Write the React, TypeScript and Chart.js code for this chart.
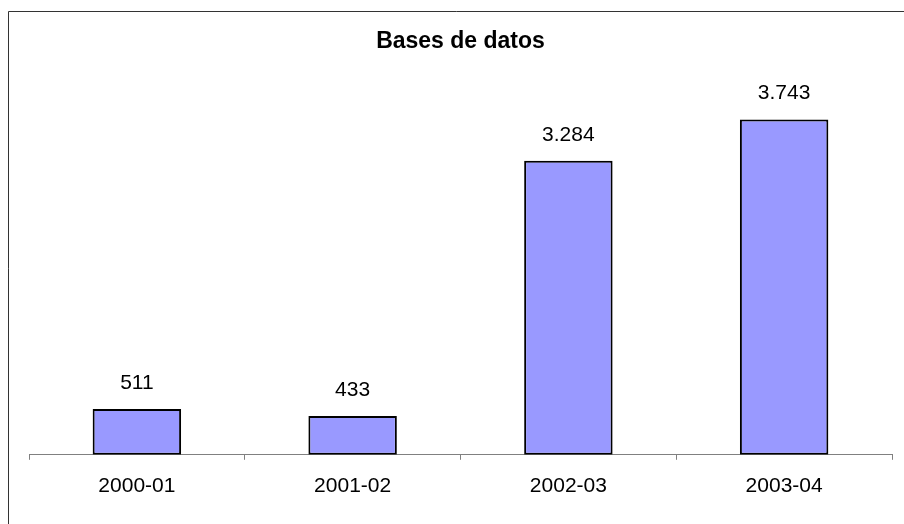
import React, { useEffect, useRef } from "react";
import { Chart, registerables } from "chart.js";

Chart.register(...registerables);

const TITLE = "Bases de datos";
const categories = ["2000-01", "2001-02", "2002-03", "2003-04"];
const values = [511, 433, 3284, 3743];
const yMin = 0;
const yMax = 4000;

const FONT = "'Liberation Sans', Arial, Helvetica, sans-serif";

function fmt(v: number): string {
  return String(v).replace(/\B(?=(\d{3})+(?!\d))/g, ".");
}

const framePlugin = {
  id: "frame",
  beforeDraw(chart: any) {
    const { ctx, width, height } = chart;
    ctx.save();
    ctx.fillStyle = "#ffffff";
    ctx.fillRect(0, 0, width, height);
    ctx.strokeStyle = "#333333";
    ctx.lineWidth = 1;
    ctx.beginPath();
    ctx.moveTo(width + 2, 11.5);
    ctx.lineTo(8.5, 11.5);
    ctx.lineTo(8.5, height + 2);
    ctx.stroke();
    ctx.restore();
  },
};

const valueLabelPlugin = {
  id: "valueLabels",
  afterDatasetsDraw(chart: any) {
    const { ctx } = chart;
    const meta = chart.getDatasetMeta(0);
    ctx.save();
    ctx.font = `21px ${FONT}`;
    ctx.fillStyle = "#000000";
    ctx.textAlign = "center";
    ctx.textBaseline = "middle";
    meta.data.forEach((bar: any, i: number) => {
      ctx.fillText(fmt(values[i]), bar.x, bar.y - 26);
    });
    ctx.restore();
  },
};

export default function App() {
  const ref = useRef<HTMLCanvasElement | null>(null);

  useEffect(() => {
    if (!ref.current) return;
    const chart = new Chart(ref.current, {
      type: "bar",
      data: {
        labels: categories,
        datasets: [
          {
            data: values,
            backgroundColor: "#9999FF",
            borderColor: "#000000",
            borderWidth: 2,
            borderSkipped: false,
            categoryPercentage: 1,
            barPercentage: 0.41,
          },
        ],
      },
      options: {
        animation: false,
        responsive: false,
        maintainAspectRatio: false,
        devicePixelRatio: 1,
        layout: { padding: { left: 29, right: 12, top: 0, bottom: 11 } },
        plugins: {
          legend: { display: false },
          tooltip: { enabled: false },
          title: {
            display: true,
            text: TITLE,
            color: "#000000",
            font: { family: FONT, size: 23, weight: "bold" },
            padding: { top: 28, bottom: 41 },
          },
        },
        scales: {
          x: {
            grid: {
              offset: true,
              drawOnChartArea: false,
              drawTicks: true,
              tickLength: 5,
              color: "#808080",
              lineWidth: 1,
            },
            border: { display: true, color: "#808080", width: 1 },
            ticks: {
              color: "#000000",
              padding: 14,
              font: { family: FONT, size: 21 },
              maxRotation: 0,
            },
          },
          y: {
            display: false,
            min: yMin,
            max: yMax,
          },
        },
      },
      plugins: [framePlugin, valueLabelPlugin],
    });
    return () => chart.destroy();
  }, []);

  return (
    <div style={{ position: "absolute", left: 0, top: 0, width: 904, height: 524 }}>
      <canvas ref={ref} width={904} height={524} style={{ display: "block", width: 904, height: 524 }} />
    </div>
  );
}
